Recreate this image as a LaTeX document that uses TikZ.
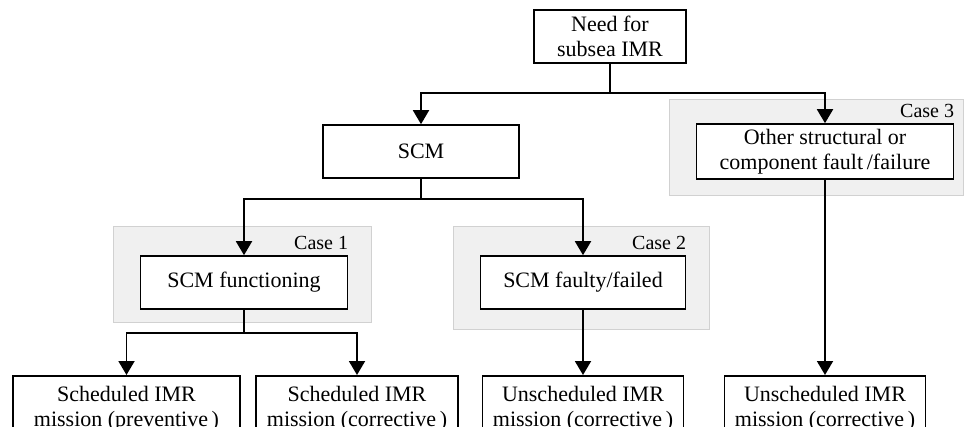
\documentclass[tikz,border=0pt]{standalone}
\usepackage{fontspec}
\setmainfont{Liberation Serif}
\usetikzlibrary{arrows.meta,calc}
\begin{document}
\begin{tikzpicture}[x=1pt,y=-1pt,
  box/.style={draw=black,line width=1.6pt,fill=white,align=center,inner sep=0pt,
    font=\fontsize{22}{25}\selectfont},
  casebg/.style={draw=black!18,fill=black!6,line width=1pt,inner sep=0pt},
  caselbl/.style={anchor=base east,inner sep=0pt,font=\fontsize{20}{22}\selectfont},
  link/.style={line width=1.9pt},
  arr/.style={link,-{Triangle[width=16pt,length=14pt]}}]
\useasboundingbox (0,0) rectangle (966,427);
\clip (0,0) rectangle (966,427);

% shaded case panels
\node[casebg,minimum width=294,minimum height=96] (bg3) at (816,148) {};
\node[casebg,minimum width=258,minimum height=96] (bg1) at (242,275) {};
\node[casebg,minimum width=256,minimum height=103] (bg2) at (581,278.5) {};

% decision boxes
\node[box,minimum width=152,minimum height=53] (need) at (610,36.5) {Need for\\subsea IMR};
\node[box,minimum width=196,minimum height=53] (scm) at (421,151.5) {SCM};
\node[box,minimum width=257,minimum height=55] (other) at (825,151.5) {Other structural or\\component fault\,/failure};
\node[box,minimum width=207,minimum height=53] (func) at (244,282.5) {SCM functioning};
\node[box,minimum width=205,minimum height=53] (fail) at (583,282.5) {SCM faulty/failed};

% case labels
\node[caselbl] (c1) at ($(func.north east)+(0,-6)$) {Case 1};
\node[caselbl] (c2) at ($(fail.north east)+(0,-6)$) {Case 2};
\node[caselbl] (c3) at ($(other.north east)+(0,-6)$) {Case 3};

% mission boxes (run off the lower edge)
\node[box,anchor=north,minimum width=227,minimum height=65] (m1) at (126.5,375) {Scheduled IMR\\mission (preventive\,)};
\node[box,anchor=north,minimum width=202,minimum height=65] (m2) at (357,375) {Scheduled IMR\\mission (corrective\,)};
\node[box,anchor=north,minimum width=201,minimum height=65] (m3) at (583,375) {Unscheduled IMR\\mission (corrective\,)};
\node[box,anchor=north,minimum width=201,minimum height=65] (m4) at (825,375) {Unscheduled IMR\\mission (corrective\,)};

% branch points
\coordinate (j1) at (610,93);
\coordinate (j2) at (421,199);
\coordinate (j3) at (244,333);

% connectors
\draw[link] (need.south) -- (j1);
\draw[arr] (j1) -| (scm.north);
\draw[arr] (j1) -| (other.north);
\draw[link] (scm.south) -- (j2);
\draw[arr] (j2) -| (func.north);
\draw[arr] (j2) -| (fail.north);
\draw[link] (func.south) -- (j3);
\draw[arr] (j3) -| (m1.north);
\draw[arr] (j3) -| (m2.north);
\draw[arr] (fail.south) -- (m3.north);
\draw[arr] (other.south) -- (m4.north);
\end{tikzpicture}
\end{document}
